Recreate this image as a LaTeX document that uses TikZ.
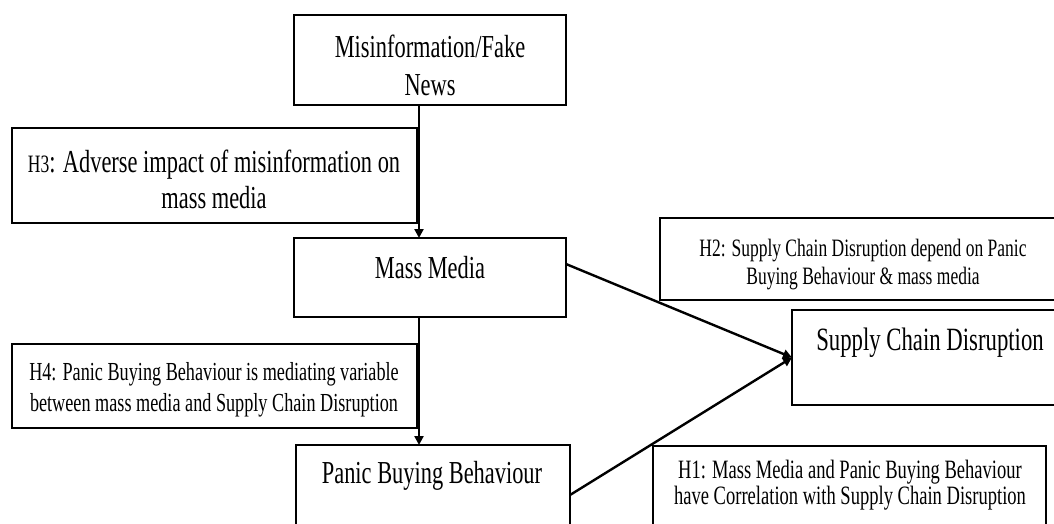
\documentclass[tikz,border=0pt]{standalone}
\usepackage{fontspec}
\setmainfont{Liberation Serif}
\newfontfamily\cf[FakeStretch=0.70]{Liberation Serif}
\usetikzlibrary{arrows.meta}
\begin{document}
\begin{tikzpicture}[x=1pt,y=-1pt,
  box/.style={draw=black, line width=1.6pt, inner sep=0pt, outer sep=0pt},
  big/.style={anchor=base, inner sep=0pt, font=\cf\fontsize{32}{38}\selectfont},
  small/.style={anchor=base, inner sep=0pt, font=\cf\fontsize{26}{30}\selectfont},
  arr/.style={line width=2.4pt, -{Triangle[length=9pt,width=9pt]}}]
\useasboundingbox (0,0) rectangle (1054,523);
\clip (0,0) rectangle (1054,523);
% boxes
\node[box, minimum width=272pt, minimum height=90pt] (mis) at (430,60) {};
\node[box, minimum width=405pt, minimum height=95pt] (h3box) at (214.5,175.5) {};
\node[box, minimum width=272pt, minimum height=79pt] (mm) at (430,277.5) {};
\node[box, minimum width=405pt, minimum height=84pt] (h4box) at (214.5,386) {};
\node[box, minimum width=274pt, minimum height=95pt] (pb) at (433,492.5) {};
\node[box, minimum width=410pt, minimum height=82pt] (h2box) at (865,259) {};
\node[box, minimum width=278pt, minimum height=95pt] (sc) at (931,357.5) {};
\node[box, minimum width=393pt, minimum height=94pt] (h1box) at (849.5,493) {};
% texts
\node[big] (misa) at (430,57) {Misinformation/Fake};
\node[big] (misb) at (430,95) {News};
\node[big] (h3a) at (214,172) {{\fontsize{25}{28}\selectfont H3}: Adverse impact of misinformation on};
\node[big] (h3b) at (214,208) {mass media};
\node[big] (mmt) at (430,278) {Mass Media};
\node[small] (h4a) at (214,380) {H4: Panic Buying Behaviour is mediating variable};
\node[small] (h4b) at (214,411) {between mass media and Supply Chain Disruption};
\node[big] (pbt) at (432,483) {Panic Buying Behaviour};
\node[small, font=\cf\fontsize{25}{29}\selectfont] (h2a) at (863,256) {H2: Supply Chain Disruption depend on Panic};
\node[small, font=\cf\fontsize{25}{29}\selectfont] (h2b) at (863,284) {Buying Behaviour \& mass media};
\node[big, font=\cf\fontsize{32.5}{38}\selectfont] (sct) at (930,350) {Supply Chain Disruption};
\node[small, font=\cf\fontsize{26.5}{30}\selectfont] (h1a) at (850,478) {H1: Mass Media and Panic Buying Behaviour};
\node[small, font=\cf\fontsize{26.5}{30}\selectfont] (h1b) at (850,504) {have Correlation with Supply Chain Disruption};
% connectors
\draw[arr] ([xshift=-11pt]mis.south) -- ([xshift=-11pt]mm.north);
\draw[arr] ([xshift=-11pt]mm.south) -- ([xshift=-14pt]pb.north);
\draw[arr] ([yshift=13.5pt]mm.east) -- (sc.west);
\draw[arr] ([yshift=-2.5pt]pb.east) -- (sc.west);
\end{tikzpicture}
\end{document}
